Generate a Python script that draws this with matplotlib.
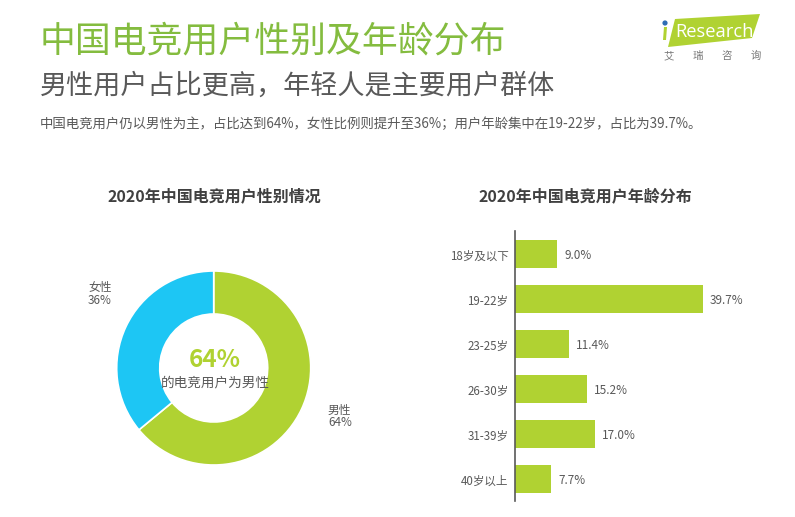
import matplotlib
matplotlib.use("Agg")
import matplotlib.pyplot as plt
from matplotlib.patches import Polygon, Circle
from matplotlib.transforms import ScaledTranslation

plt.rcParams['font.family'] = ['Noto Sans CJK SC', 'DejaVu Sans']

W, H = 795, 517
GREEN = '#B0D232'
BLUE = '#1DC6F4'
TITLE_GREEN = '#84BC3F'
DARK = '#404040'
GREY = '#595959'

main_title = '中国电竞用户性别及年龄分布'
sub_title = '男性用户占比更高\uff0c年轻人是主要用户群体'
desc = '中国电竞用户仍以男性为主\uff0c占比达到64%\uff0c女性比例则提升至36%\uff1b用户年龄集中在19-22岁\uff0c占比为39.7%。'
pie_title = '2020年中国电竞用户性别情况'
bar_title = '2020年中国电竞用户年龄分布'

gender_labels = ['男性', '女性']
gender_values = [64, 36]
age_labels = ['18岁及以下', '19-22岁', '23-25岁', '26-30岁', '31-39岁', '40岁以上']
age_values = [9.0, 39.7, 11.4, 15.2, 17.0, 7.7]

fig = plt.figure(figsize=(W / 100, H / 100), dpi=100, facecolor='white')


def px_axes(x0, y0, x1, y1, **kw):
    return fig.add_axes([x0 / W, 1 - y1 / H, (x1 - x0) / W, (y1 - y0) / H], **kw)


bg = px_axes(0, 0, W, H)
bg.set_xlim(0, W)
bg.set_ylim(H, 0)
bg.axis('off')

bg.text(40, 41, main_title, fontsize=25.8, color=TITLE_GREEN, va='center', ha='left')
bg.text(40, 86, sub_title, fontsize=19.5, color=GREY, va='center', ha='left')
bg.text(40, 124, desc, fontsize=9.68, color=GREY, va='center', ha='left')
bg.text(214, 196, pie_title, fontsize=11.5, color=DARK, weight='bold', va='center', ha='center')
bg.text(585, 196, bar_title, fontsize=11.5, color=DARK, weight='bold', va='center', ha='center')

# logo
bg.add_patch(Polygon([[675, 19], [760, 14], [752, 38], [668, 47]], closed=True, fc=GREEN, ec='none'))
bg.add_patch(Circle((665, 23), 2.6, fc='#2F6DB5', ec='none'))
bg.add_patch(Polygon([[664, 27], [667, 27], [666, 40], [663, 40]], closed=True, fc=GREEN, ec='none'))
bg.text(675, 32, 'Research', fontsize=13.2, color='white', family='Open Sans', va='center', ha='left')
for x, ch in zip([669, 698, 727, 756], '艾瑞咨询'):
    bg.text(x, 56, ch, fontsize=7.5, color='#777777', va='center', ha='center')

# donut
R = 97
cx, cy = 213.7, 368
pie_ax = px_axes(cx - R * 1.02, cy - R * 1.02, cx + R * 1.02, cy + R * 1.02)
pie_ax.pie(gender_values, colors=[GREEN, BLUE], startangle=90, counterclock=False, radius=1,
           wedgeprops=dict(width=1 - 54 / 97, edgecolor='white', linewidth=1.2))
pie_ax.set_xlim(-1.02, 1.02)
pie_ax.set_ylim(-1.02, 1.02)
pie_ax.set_aspect('equal')

bg.text(215, 360, f'{gender_values[0]}%', fontsize=17.5, color=GREEN, weight='bold', va='center', ha='center', zorder=5)
bg.text(215, 383, '的电竞用户为男性', fontsize=9.8, color=GREY, va='center', ha='center', zorder=5)
bg.set_zorder(3)
bg.patch.set_alpha(0)

bg.text(328, 410, gender_labels[0], fontsize=8.5, color=GREY, va='center', ha='left')
bg.text(328, 423, f'{gender_values[0]}%', fontsize=8.5, color=GREY, va='center', ha='left')
bg.text(88, 287, gender_labels[1], fontsize=8.5, color=GREY, va='center', ha='left')
bg.text(88, 300, f'{gender_values[1]}%', fontsize=8.5, color=GREY, va='center', ha='left')

# bars
ax = px_axes(514.7, 231, 760, 501)
ax.barh(range(len(age_values)), age_values, height=28.5 / 45, color=GREEN, edgecolor='none')
ax.set_xlim(0, 245.3 / 4.74)
ax.set_ylim(5.49, -0.51)
for s in ['top', 'right', 'bottom']:
    ax.spines[s].set_visible(False)
ax.spines['left'].set_color('#595959')
ax.spines['left'].set_linewidth(1.2)
ax.set_xticks([])
ax.set_yticks(range(len(age_labels)))
ax.set_yticklabels(age_labels, fontsize=8.3, color=GREY)
ax.tick_params(axis='y', length=0, pad=4.5)
shift = ScaledTranslation(0, -1 / 100, fig.dpi_scale_trans)
for lab in ax.get_yticklabels():
    lab.set_transform(lab.get_transform() + shift)
for i, v in enumerate(age_values):
    ax.annotate(f'{v:.1f}%', (v, i), xytext=(5, -0.8), textcoords='offset points', fontsize=8.5,
                color=GREY, va='center', ha='left')

fig.savefig('out.png', dpi=100, facecolor='white')
